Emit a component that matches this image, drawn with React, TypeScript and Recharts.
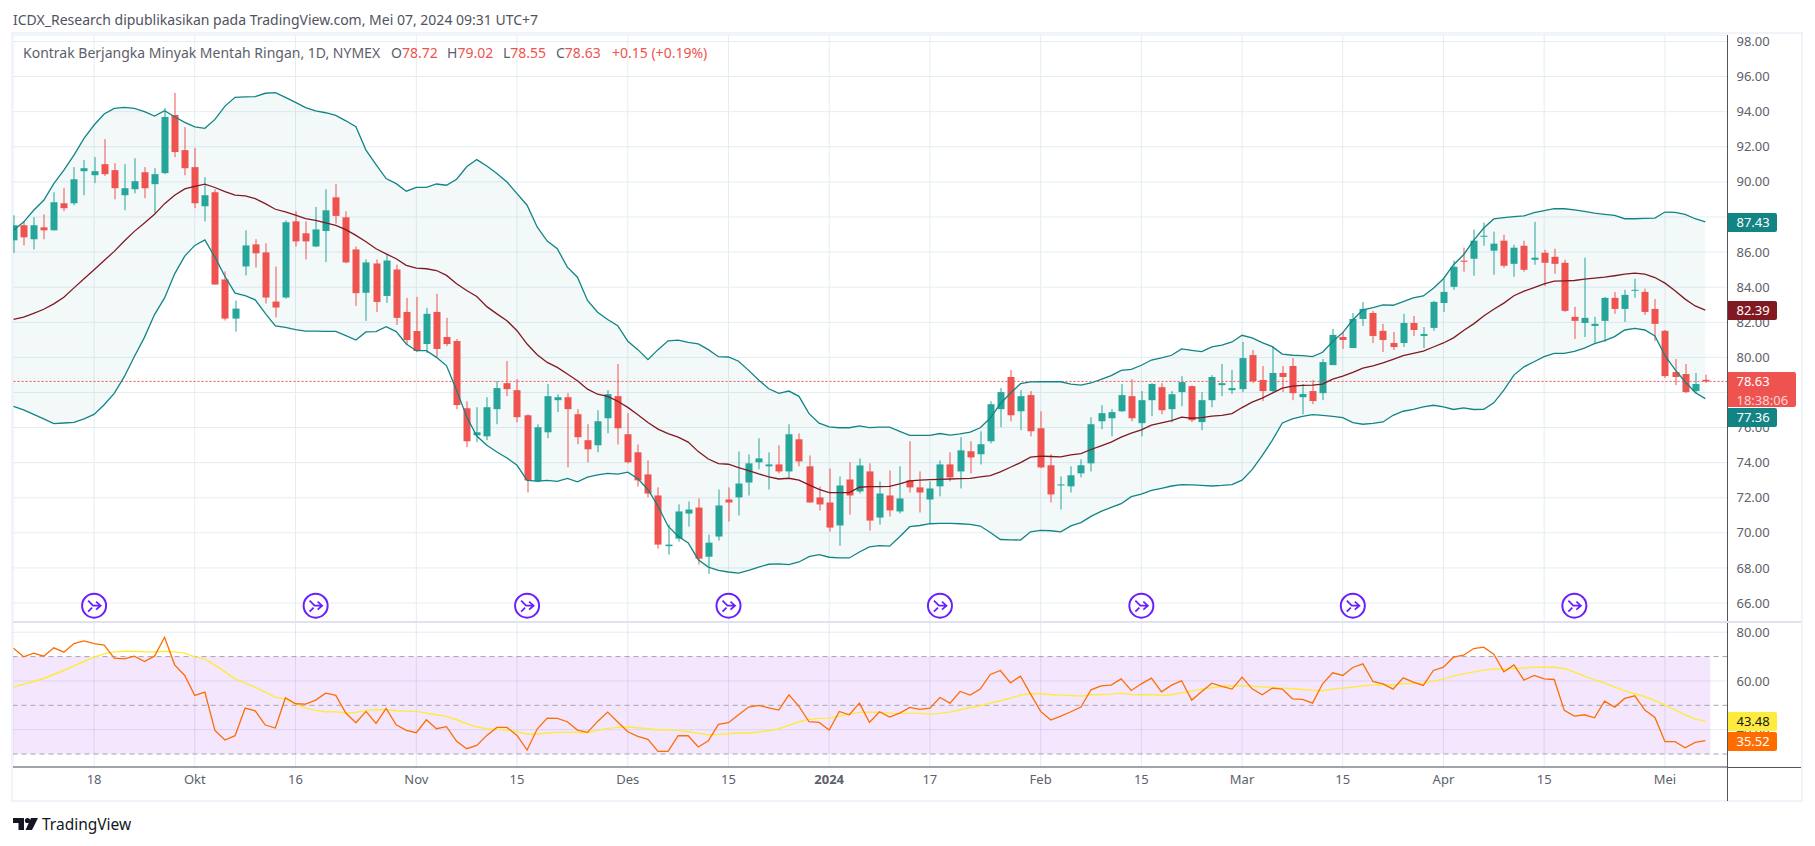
import React from 'react';
import { ComposedChart, Bar, Line, Area, XAxis, YAxis, CartesianGrid, ReferenceLine, ReferenceArea, ReferenceDot } from 'recharts';

const opens = [
86.67,87.53,86.73,87.41,87.24,88.78,88.78,90.61,90.38,91.01,
90.67,89.24,89.58,90.55,89.87,90.50,93.81,91.81,90.84,88.61,
89.41,84.44,82.21,85.18,86.44,85.98,83.18,83.41,87.75,87.07,
86.32,87.20,89.12,87.98,86.15,83.68,85.35,83.50,85.01,82.59,
81.50,80.76,82.59,81.16,80.93,77.10,75.56,75.50,77.05,78.53,
78.13,76.70,72.93,75.73,77.56,77.73,76.76,75.28,74.99,76.53,
77.79,75.62,74.59,73.33,72.13,69.24,69.67,71.10,71.44,68.64,
69.79,71.90,72.02,72.87,74.02,73.79,73.90,73.50,75.33,73.79,
72.02,71.73,70.42,73.04,72.36,73.50,70.87,72.13,71.22,72.99,
72.59,71.90,72.65,73.90,73.50,74.65,74.48,75.22,77.05,78.88,
76.93,77.85,75.96,73.85,72.70,72.65,73.39,73.96,76.36,76.53,
76.93,77.79,76.25,77.56,78.30,77.05,78.02,78.36,76.31,77.56,
78.42,78.13,78.19,80.13,78.71,78.08,79.11,79.51,77.73,78.08,
77.96,79.56,81.16,80.53,82.19,82.53,81.51,80.82,80.82,81.96,
81.22,81.68,83.10,84.02,85.51,85.62,86.90,86.08,86.65,85.33,
86.36,85.56,85.96,85.73,85.39,82.31,81.96,81.79,82.08,83.39,
82.76,83.81,83.73,82.76,81.51,79.16,79.05,78.08,78.72];

const highs = [
88.10,87.77,87.98,88.15,89.41,89.64,90.84,91.24,91.41,92.44,
91.07,91.01,91.35,90.84,90.78,94.21,95.07,93.12,91.93,90.27,
89.58,84.90,83.24,87.24,86.73,86.50,85.18,87.81,88.33,87.75,
88.57,89.58,89.87,88.32,86.32,85.58,85.58,85.87,85.29,83.39,
83.45,82.82,83.62,82.25,81.05,77.50,77.16,77.73,78.65,79.79,
78.76,76.76,76.19,78.48,77.90,77.96,77.05,76.19,76.99,78.13,
79.62,76.82,75.04,74.13,72.59,70.47,71.62,71.79,71.96,69.90,
72.47,72.59,74.64,74.47,75.39,74.59,74.99,76.19,75.67,74.41,
72.64,73.67,73.21,74.02,74.24,73.96,72.93,73.56,73.79,75.22,
73.50,72.93,74.13,74.59,75.45,75.22,75.79,77.50,78.25,79.28,
78.13,78.08,76.93,74.48,73.22,73.79,74.19,76.59,77.28,77.05,
78.48,78.76,78.08,78.53,78.53,78.08,78.93,78.40,78.02,78.99,
79.62,79.28,80.88,80.42,79.51,80.65,79.51,79.96,78.48,78.71,
79.91,81.62,81.45,82.53,83.16,82.65,81.91,81.45,82.48,82.36,
81.73,83.22,84.48,85.51,86.25,87.28,87.68,87.16,86.99,86.42,
86.65,87.73,86.13,86.19,85.56,82.88,85.68,82.31,83.45,83.73,
83.85,84.48,83.91,83.33,81.56,79.91,79.62,79.11,79.02];

const lows = [
85.96,86.38,86.15,86.73,87.24,88.34,88.67,89.24,89.93,90.33,
89.01,88.38,89.35,89.07,88.15,90.44,91.41,90.38,88.50,87.75,
84.15,82.10,81.47,84.67,85.12,83.07,82.27,83.35,86.32,85.58,
86.28,85.43,87.62,85.37,82.93,82.08,82.59,83.10,81.85,80.76,
80.30,80.25,80.02,80.65,77.05,74.88,75.16,75.28,76.19,77.79,
76.30,72.30,72.88,75.39,76.88,73.73,75.05,74.02,74.59,75.67,
75.04,73.96,72.64,72.02,69.10,68.76,69.50,70.36,68.19,67.67,
69.56,70.64,70.99,72.13,73.62,72.47,73.39,73.16,73.79,71.73,
71.27,70.07,69.27,71.04,72.24,70.13,70.47,70.93,71.10,72.30,
71.16,70.53,72.08,72.93,72.53,73.39,73.90,75.10,76.02,76.36,
75.85,75.50,73.68,71.73,71.33,72.30,73.16,73.50,75.90,75.50,
76.88,76.36,75.50,76.65,76.76,76.30,77.22,76.31,75.85,77.16,
77.79,77.91,78.02,78.53,77.51,78.02,78.02,77.56,76.76,77.33,
77.56,79.56,80.48,80.53,81.79,80.82,80.31,80.42,80.59,81.22,
80.53,81.51,82.59,83.85,84.88,84.65,86.36,84.71,85.11,84.59,
84.88,85.28,84.08,84.76,82.59,81.05,81.16,80.76,80.88,82.48,
82.02,83.39,82.42,80.93,78.82,78.42,77.96,77.91,78.55];

const closes = [
87.53,86.84,87.53,87.24,88.84,88.50,90.15,90.78,90.61,90.44,
89.64,89.64,90.04,89.64,90.44,93.70,91.70,90.78,88.78,89.24,
84.15,82.21,82.78,86.38,85.93,83.41,82.84,87.70,86.61,86.61,
87.29,88.38,88.06,85.41,83.66,85.41,83.16,85.52,82.25,80.99,
80.36,82.48,80.48,80.76,77.28,75.22,75.73,77.16,78.25,78.19,
76.59,72.99,76.02,77.79,77.73,77.05,75.45,74.76,76.36,77.90,
75.96,74.02,72.99,72.24,69.33,69.33,71.22,71.33,68.53,69.44,
71.56,71.73,72.81,73.96,74.24,73.90,73.50,75.62,74.07,71.73,
71.62,70.30,72.70,72.13,73.84,70.70,72.24,71.28,71.96,72.59,
72.30,72.53,73.90,73.16,74.70,74.30,75.05,77.33,78.02,76.70,
77.79,75.79,73.73,72.19,72.76,73.28,73.85,76.19,76.82,76.88,
77.85,76.53,77.56,78.48,76.99,77.90,78.59,76.42,77.56,78.88,
78.53,78.25,79.96,78.65,78.08,79.11,78.88,77.96,77.91,77.51,
79.73,81.28,80.99,82.19,82.76,81.22,80.99,80.59,81.96,81.56,
81.33,83.16,83.73,85.16,85.45,86.65,86.93,86.48,85.22,86.25,
84.99,85.68,85.39,85.33,82.65,82.08,82.25,81.91,83.39,82.76,
83.56,83.85,82.59,81.91,78.93,78.88,78.02,78.48,78.63];

const upperBand = [
87.24,87.71,88.38,88.95,89.90,90.67,91.52,92.48,93.24,93.87,
94.19,94.25,94.19,94.00,93.75,94.06,93.71,93.39,93.14,93.05,
93.56,94.32,94.82,94.84,94.86,95.05,95.09,94.82,94.53,94.23,
94.04,93.94,93.79,93.48,93.14,91.81,90.99,90.19,89.90,89.47,
89.69,89.69,89.88,89.81,90.15,90.86,91.27,90.91,90.48,89.99,
89.33,88.67,87.43,86.63,86.19,85.14,84.57,83.24,82.57,82.16,
81.81,80.92,80.44,79.87,80.44,80.94,80.98,80.86,80.77,80.44,
80.04,80.02,79.78,79.26,78.71,78.21,77.95,78.08,77.78,76.79,
76.25,76.04,75.99,75.99,76.10,76.00,76.02,76.02,75.78,75.55,
75.55,75.55,75.66,75.57,75.64,75.74,75.99,76.54,77.36,77.97,
78.50,78.60,78.61,78.61,78.61,78.48,78.42,78.54,78.75,78.96,
79.26,79.32,79.55,79.85,79.97,80.12,80.48,80.40,80.33,80.60,
80.70,80.88,81.26,81.11,80.84,80.61,80.19,80.12,80.10,80.04,
80.29,80.90,81.41,82.13,82.71,82.84,82.99,82.97,83.18,83.39,
83.50,83.94,84.48,85.28,85.85,86.67,87.37,87.89,87.96,88.02,
88.06,88.25,88.36,88.47,88.47,88.40,88.32,88.22,88.15,88.09,
87.90,87.90,87.92,87.94,88.28,88.26,88.15,87.90,87.72];

const basisBand = [
82.17,82.29,82.51,82.74,83.05,83.43,83.96,84.48,84.99,85.52,
86.04,86.63,87.18,87.66,88.15,88.76,89.24,89.60,89.75,89.87,
89.68,89.45,89.24,89.20,89.05,88.76,88.44,88.29,88.10,87.90,
87.81,87.66,87.52,87.28,86.95,86.59,86.19,85.90,85.62,85.24,
85.08,85.05,84.95,84.67,84.19,83.81,83.47,82.89,82.48,82.09,
81.52,80.76,80.15,79.71,79.43,79.05,78.67,78.19,77.90,77.78,
77.50,77.15,76.73,76.29,75.91,75.66,75.45,75.17,74.63,74.21,
73.95,73.91,73.72,73.55,73.36,73.19,73.07,73.11,73.00,72.73,
72.48,72.29,72.29,72.29,72.60,72.63,72.63,72.65,72.79,72.96,
73.00,73.03,73.05,73.07,73.09,73.11,73.19,73.26,73.47,73.74,
74.00,74.31,74.37,74.35,74.33,74.44,74.52,74.75,74.96,75.17,
75.45,75.68,75.87,76.14,76.27,76.40,76.59,76.53,76.57,76.65,
76.69,76.80,77.14,77.45,77.68,77.96,78.25,78.36,78.40,78.42,
78.48,78.76,78.93,79.14,79.39,79.52,79.68,79.89,80.10,80.23,
80.36,80.59,80.82,81.11,81.53,81.91,82.36,82.74,83.09,83.51,
83.77,83.98,84.19,84.34,84.36,84.38,84.46,84.52,84.57,84.65,
84.74,84.80,84.74,84.55,84.23,83.79,83.32,82.93,82.69];

const lowerBand = [
77.21,77.01,76.75,76.49,76.22,76.26,76.29,76.49,76.75,77.30,
77.95,78.90,80.05,81.14,82.44,83.39,84.76,85.77,86.38,86.69,
85.71,84.61,83.66,83.52,83.28,82.51,81.79,81.71,81.58,81.50,
81.50,81.48,81.48,81.24,80.99,81.45,81.47,81.75,81.47,80.76,
80.38,80.38,80.00,79.52,78.13,76.61,75.52,74.99,74.61,74.27,
73.85,72.99,72.95,72.99,72.93,73.10,72.91,73.18,73.31,73.39,
73.35,73.46,73.08,72.47,71.52,70.38,69.81,69.43,68.47,68.05,
67.86,67.77,67.71,67.86,68.05,68.21,68.23,68.19,68.34,68.64,
68.76,68.61,68.57,68.57,68.91,69.20,69.27,69.24,69.78,70.35,
70.42,70.52,70.54,70.54,70.52,70.48,70.39,70.02,69.62,69.60,
69.59,70.06,70.14,70.12,70.06,70.40,70.58,70.94,71.22,71.45,
71.66,72.06,72.21,72.42,72.54,72.67,72.75,72.73,72.71,72.67,
72.70,72.75,73.00,73.60,74.40,75.27,76.26,76.49,76.64,76.74,
76.70,76.64,76.57,76.28,76.19,76.24,76.32,76.70,76.93,77.03,
77.18,77.27,77.18,77.03,77.12,77.03,77.04,77.41,78.13,78.99,
79.46,79.75,80.04,80.23,80.23,80.34,80.53,80.78,80.95,81.18,
81.56,81.65,81.56,81.22,80.10,79.30,78.61,78.00,77.65];

const rsiValues = [
73.44,69.89,71.40,70.17,73.58,71.81,75.36,76.45,75.36,74.67,
69.35,69.07,70.17,67.98,70.17,77.95,66.61,62.24,54.05,55.41,
39.70,35.74,37.52,48.85,47.76,41.89,40.66,53.09,50.63,50.49,
52.13,55.00,54.05,46.81,42.84,47.49,42.57,48.72,42.02,39.70,
38.74,44.07,40.38,41.20,35.19,32.19,33.55,37.65,40.93,40.93,
37.65,31.64,40.25,44.76,44.62,43.25,39.84,38.88,43.39,47.21,
43.11,39.15,37.24,36.01,31.09,31.09,37.51,37.51,32.87,35.46,
42.16,42.84,46.12,49.26,49.94,48.99,48.03,54.32,49.53,43.25,
42.98,39.83,47.49,46.12,50.90,42.98,47.35,45.16,46.80,49.12,
48.30,48.85,53.22,50.90,55.68,54.18,56.64,62.65,64.29,59.23,
61.97,54.59,47.49,43.93,45.57,47.35,49.26,56.37,58.00,58.28,
60.87,56.09,58.82,61.15,55.55,58.28,60.05,52.13,55.68,59.10,
57.73,56.64,61.56,56.77,54.32,57.05,56.64,52.68,52.40,50.90,
58.82,63.33,62.24,65.52,67.02,59.78,58.82,56.64,61.28,59.51,
58.14,64.29,65.65,69.75,70.57,73.30,73.85,70.98,63.74,66.61,
60.33,62.24,60.87,60.60,47.90,45.57,46.12,44.89,51.72,49.26,
52.81,53.91,48.03,45.03,35.05,35.05,32.59,34.78,35.52];

const rsiMa = [
57.46,58.69,59.78,61.01,62.65,64.29,66.20,67.98,69.76,71.12,
71.94,72.21,72.21,71.94,71.94,72.21,71.94,71.40,69.89,68.94,
66.48,63.75,60.74,59.10,57.32,55.41,53.36,52.54,50.49,48.85,
47.90,47.35,47.35,46.81,47.08,47.90,48.17,48.17,47.76,47.62,
47.49,46.81,46.12,45.44,44.07,42.43,41.07,40.38,40.11,39.84,
39.15,38.20,38.20,38.61,38.88,38.88,38.88,38.74,39.70,40.52,
40.93,41.07,40.79,40.38,39.97,39.97,39.70,39.15,38.47,37.92,
38.06,38.33,38.61,38.61,39.01,39.56,40.38,41.75,43.25,44.21,
44.62,44.75,45.57,46.39,47.08,47.21,47.08,46.80,46.67,46.67,
46.67,46.39,46.67,47.21,48.17,49.12,49.81,50.90,51.86,52.95,
54.18,54.73,54.73,54.45,54.18,54.04,53.77,54.32,54.45,54.59,
55.00,54.45,54.32,54.45,54.04,54.32,55.14,55.82,56.64,57.18,
57.73,58.00,58.00,57.87,57.46,57.46,57.05,56.77,56.50,56.23,
55.95,56.64,57.05,57.46,58.00,58.28,58.41,58.41,58.82,58.96,
59.10,59.92,60.74,62.10,62.92,63.74,64.43,64.97,64.83,65.11,
65.38,65.65,65.65,65.65,65.11,63.61,61.97,60.46,59.10,57.46,
55.95,54.73,53.50,52.00,50.08,48.17,46.12,44.34,43.48];

const timeTickBars = [8, 18, 28, 40, 50, 61, 71, 81, 91, 102, 112, 122, 132, 142, 152, 164];
const timeTickLabels = ['18', 'Okt', '16', 'Nov', '15', 'Des', '15', '2024', '17', 'Feb', '15', 'Mar', '15', 'Apr', '15', 'Mei'];
const priceTicks = [66, 68, 70, 72, 74, 76, 78, 80, 82, 84, 86, 88, 90, 92, 94, 96, 98];
const rsiTicks = [40, 60, 80];
const rsiLevels = [70, 50, 30];
const eventBars = [8, 30, 51, 71, 92, 112, 133, 155];
const eventPrice = 65.85;
const lastPrice = 78.63;

const rows = opens.map((o, i) => ({
  idx: i,
  open: o,
  high: highs[i],
  low: lows[i],
  close: closes[i],
  range: [lows[i], highs[i]],
  upper: upperBand[i],
  basis: basisBand[i],
  lower: lowerBand[i],
  band: [lowerBand[i], upperBand[i]],
  rsi: rsiValues[i],
  rsiMa: rsiMa[i],
}));

const FONT = "'Noto Sans', sans-serif";
const UP = '#26a69a';
const DOWN = '#ef5350';
const GRID = '#e4edf2';
const AXIS = '#50535e';
const TEXT = '#5d606b';
const PAD = { left: -4.5, right: 17.2 };

function Candle(props: any) {
  const { x, y, width, height, payload } = props;
  const { open, close, high, low } = payload;
  const perUnit = height / (high - low);
  const top = y + (high - Math.max(open, close)) * perUnit;
  const bodyH = Math.max(Math.abs(open - close) * perUnit, 1);
  const col = close >= open ? UP : DOWN;
  const cx = Math.round(x + width / 2);
  return (
    <g>
      <rect x={cx - 0.5} y={y} width={1} height={height} fill={col} />
      <rect x={cx - 3.5} y={top} width={7} height={bodyH} fill={col} />
    </g>
  );
}

function EventMark(props: any) {
  const { cx, cy } = props;
  const c = '#6a1fff';
  return (
    <g transform={`translate(${cx},${cy})`} fill="none" stroke={c}>
      <circle r={12} fill="#fff" strokeWidth={2} />
      <path d="M-6,-5 L-1,0 H6 M2,-4 L6.5,0 L2,4 M-6,6 L-2,2" strokeWidth={1.8} />
    </g>
  );
}

function TimeTick(props: any) {
  const { x, y, payload } = props;
  const label = timeTickLabels[timeTickBars.indexOf(payload.value)];
  return (
    <text x={x} y={y} dy={9} textAnchor="middle" fontFamily={FONT} fontSize={13}
      fontWeight={label === '2024' ? 700 : 400} fill={TEXT}>
      {label}
    </text>
  );
}

function Tag(p: { top: number; height: number; bg: string; color: string; width?: number; children: any }) {
  return (
    <div style={{
      position: 'absolute', left: 1727.5, top: p.top, width: p.width ?? 49, height: p.height,
      background: p.bg, color: p.color, fontSize: 13, lineHeight: '18.5px',
      paddingLeft: 9, boxSizing: 'border-box', borderRadius: '0 2px 2px 0', fontFamily: FONT,
    }}>{p.children}</div>
  );
}

function Box(p: { l: number; t: number; w: number; h: number; c: string }) {
  return <div style={{ position: 'absolute', left: p.l, top: p.t, width: p.w, height: p.h, background: p.c }} />;
}

function Abs(p: { l: number; t: number; c: string; s?: number; children: any }) {
  return <span style={{ position: 'absolute', left: p.l, top: p.t, color: p.c, fontSize: p.s ?? 14, lineHeight: '18px', whiteSpace: 'nowrap', fontFamily: FONT }}>{p.children}</span>;
}

export default function App() {
  return (
    <div style={{ position: 'absolute', left: 0, top: 0, width: 1815, height: 846, background: '#fff', overflow: 'hidden', fontFamily: FONT }}>
      <div style={{ position: 'absolute', left: 0, top: 0 }}>
        <ComposedChart width={1815} height={622} data={rows} margin={{ top: 35, right: 14, bottom: 0, left: 13 }}>
          <CartesianGrid stroke={GRID} strokeWidth={1} vertical />
          <XAxis dataKey="idx" type="category" scale="band" hide ticks={timeTickBars} interval={0} padding={PAD} />
          <YAxis orientation="right" width={73.5} domain={[64.92, 98.37]} ticks={priceTicks} interval={0}
            tickFormatter={(v: number) => v.toFixed(2)} tickLine={false} tickSize={0} tickMargin={9}
            axisLine={{ stroke: AXIS }} tick={{ fill: TEXT, fontSize: 13, fontFamily: FONT }} />
          <Area dataKey="band" stroke="none" fill="#138484" fillOpacity={0.05} isAnimationActive={false} dot={false} activeDot={false} />
          <ReferenceLine y={lastPrice} stroke={DOWN} strokeDasharray="2 2" />
          <Line dataKey="upper" stroke="#138484" strokeWidth={1.3} dot={false} activeDot={false} isAnimationActive={false} />
          <Line dataKey="lower" stroke="#138484" strokeWidth={1.3} dot={false} activeDot={false} isAnimationActive={false} />
          <Line dataKey="basis" stroke="#801922" strokeWidth={1.3} dot={false} activeDot={false} isAnimationActive={false} />
          <Bar dataKey="range" barSize={7} shape={Candle} isAnimationActive={false} />
          {eventBars.map((b) => (
            <ReferenceDot key={b} x={b} y={eventPrice} ifOverflow="visible" shape={EventMark} />
          ))}
        </ComposedChart>
      </div>

      <div style={{ position: 'absolute', left: 0, top: 622 }}>
        <ComposedChart width={1815} height={179} data={rows} margin={{ top: 0, right: 14, bottom: 0, left: 13 }}>
          <ReferenceArea y1={30} y2={70} fill="#9b1ced" fillOpacity={0.11} stroke="none" />
          <CartesianGrid stroke="rgba(60,90,170,0.13)" strokeWidth={1} vertical />
          <XAxis dataKey="idx" type="category" scale="band" height={34} ticks={timeTickBars} interval={0} padding={PAD}
            tick={TimeTick} tickLine={false} axisLine={{ stroke: AXIS }} />
          <YAxis orientation="right" width={73.5} domain={[24.67, 84.2]} ticks={rsiTicks} interval={0}
            tickFormatter={(v: number) => v.toFixed(2)} tickLine={false} tickSize={0} tickMargin={9}
            axisLine={{ stroke: AXIS }} tick={{ fill: TEXT, fontSize: 13, fontFamily: FONT }} />
          {rsiLevels.map((v) => (
            <ReferenceLine key={v} y={v} stroke="#a8a3ae" strokeDasharray="5 4" />
          ))}
          <Line dataKey="rsiMa" stroke="#ffeb3b" strokeWidth={1.4} dot={false} activeDot={false} isAnimationActive={false} />
          <Line dataKey="rsi" stroke="#ff6d00" strokeWidth={1.3} dot={false} activeDot={false} isAnimationActive={false} />
        </ComposedChart>
      </div>

      {/* frame */}
      <Box l={0} t={0} w={11} h={846} c="#fff" />
      <Box l={11} t={32} w={2} h={770} c="#f0f3fa" />
      <Box l={11} t={32} w={1792} h={2} c="#f0f3fa" />
      <Box l={11} t={800} w={1792} h={2} c="#f0f3fa" />
      <Box l={1801} t={32} w={2} h={770} c="#f0f3fa" />
      <Box l={13} t={621} w={1788} h={2} c="#e0e3eb" />
      <Box l={1727} t={767} w={1} h={34} c={AXIS} />
      <Box l={1727} t={767} w={74} h={1} c={AXIS} />

      <Abs l={13} t={11} c="#50535e">ICDX_Research dipublikasikan pada TradingView.com, Mei 07, 2024 09:31 UTC+7</Abs>
      <Abs l={23} t={44} c="#5d606b">Kontrak Berjangka Minyak Mentah Ringan, 1D, NYMEX</Abs>
      <Abs l={391} t={44} c="#5d606b">O<span style={{ color: DOWN }}>78.72</span></Abs>
      <Abs l={447} t={44} c="#5d606b">H<span style={{ color: DOWN }}>79.02</span></Abs>
      <Abs l={503} t={44} c="#5d606b">L<span style={{ color: DOWN }}>78.55</span></Abs>
      <Abs l={556} t={44} c="#5d606b">C<span style={{ color: DOWN }}>78.63</span></Abs>
      <Abs l={612} t={44} c={DOWN}>+0.15 (+0.19%)</Abs>

      <Tag top={213} height={19} bg="#138484" color="#fff">87.43</Tag>
      <Tag top={301} height={19} bg="#801922" color="#fff">82.39</Tag>
      <Tag top={372} height={35} bg={DOWN} color="#fff" width={68.5}>
        78.63<br /><span style={{ color: '#fbd6d5' }}>18:38:06</span>
      </Tag>
      <Tag top={408} height={19} bg="#138484" color="#fff">77.36</Tag>
      <Tag top={712} height={19} bg="#ffeb3b" color="#131722">43.48</Tag>
      <Tag top={732} height={19} bg="#ff6d00" color="#fff">35.52</Tag>

      <svg style={{ position: 'absolute', left: 13, top: 817 }} width={26} height={14} viewBox="0 0 26 14">
        <path d="M0,1 H11 V13 H5.5 V6 H0 Z" fill="#131722" />
        <circle cx={14.5} cy={3.5} r={2.6} fill="#131722" />
        <path d="M18,1 H25 L19,13 H12.5 Z" fill="#131722" />
      </svg>
      <Abs l={42} t={815} c="#131722" s={15.5}>TradingView</Abs>
    </div>
  );
}
